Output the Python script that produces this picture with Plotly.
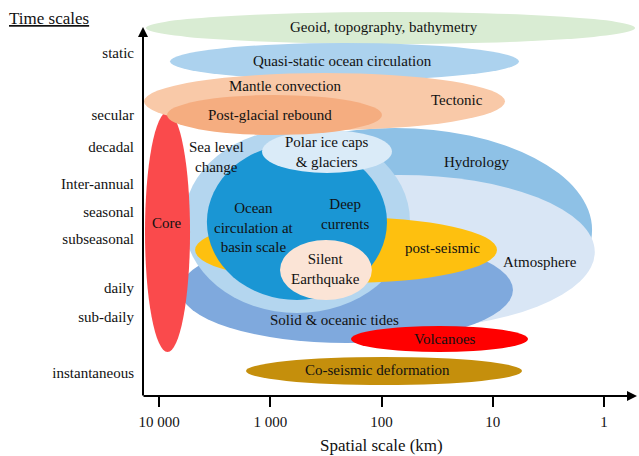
import numpy as np
import plotly.graph_objects as go

# ---------------- data ----------------
# spatial extent of each phenomenon (km) and temporal extent (time-scale level units)
names = ["Hydrology", "Atmosphere", "Solid & oceanic tides", "Sea level change", "Core",
         "post-seismic", "Ocean circulation", "Polar ice caps", "Silent Earthquake",
         "Volcanoes", "Co-seismic deformation", "Geoid", "Quasi-static ocean circulation",
         "Mantle convection / Tectonic", "Post-glacial rebound"]
km_large = [4460, 3860, 6470, 5960, 13360, 4740, 3710, 1186, 817, 188, 1652, 13100, 7960, 13640, 8470]
km_small = [1.28, 1.21, 6.58, 55.5, 5260, 9.16, 89.3, 80.5, 122, 4.82, 5.46, 0.526, 5.81, 7.76, 99.1]
t_high = [26.8, 22.1, 15.9, 26.7, 28.4, 17.9, 25.2, 26.6, 15.6, 7.0, 3.9, 38.4, 35.3, 32.3, 30.1]
t_low = [6.4, 6.7, 5.3, 8.3, 4.4, 11.3, 9.6, 22.3, 9.6, 4.4, 1.1, 35.2, 31.6, 26.6, 26.1]

time_labels = ["static", "secular", "decadal", "Inter-annual", "seasonal", "subseasonal",
               "daily", "sub-daily", "instantaneous"]
time_levels = [34.3, 28.1, 24.9, 21.2, 18.4, 15.7, 10.8, 7.9, 2.3]

space_ticks = [10000, 1000, 100, 10, 1]
space_ticktext = ["10 000", "1 000", "100", "10", "1"]

# ---------------- styles ----------------
colors = ["#8ec1e6", "#d9e6f5", "#7fa9dd", "#b4d6ef", "#fa4a4c",
          "#fec00f", "#1a96d4", "#daebf8", "#fbe4d6",
          "#ff0000", "#c58f0c", "#d9ecd3", "#acd2ee",
          "#f9c9a8", "#f5ad80"]


def px_to_km(px):
    return 10 ** (4 - (px - 159) / 111.25)


def py_to_lvl(py):
    return (396 - py) / 10


# text labels: (text, x pixel, y pixel) -> converted to axis coordinates
labels = [
    ("Geoid, topography, bathymetry", 384, 27),
    ("Quasi-static ocean circulation", 342, 61),
    ("Mantle convection", 285, 86),
    ("Tectonic", 457, 100),
    ("Post-glacial rebound", 270, 115),
    ("Sea level<br>change", 216, 157),
    ("Polar ice caps<br>& glaciers", 326, 152),
    ("Hydrology", 476, 162),
    ("Ocean<br>circulation at<br>basin scale", 254, 227),
    ("Deep<br>currents", 345, 214),
    ("Core", 167, 223),
    ("Silent<br>Earthquake", 325, 269),
    ("post-seismic", 442, 248),
    ("Atmosphere", 540, 262),
    ("Solid & oceanic tides", 334, 320),
    ("Volcanoes", 445, 339),
    ("Co-seismic deformation", 377, 370),
]

FONT = "Liberation Serif"
TXT = "#111111"

fig = go.Figure()
fig.add_trace(go.Scatter(x=[1000], y=[10], mode="markers", marker=dict(opacity=0),
                         hoverinfo="skip", showlegend=False))

for n, a, b, hi, lo, c in zip(names, km_large, km_small, t_high, t_low, colors):
    fig.add_shape(type="circle", xref="x", yref="y", x0=a, x1=b, y0=lo, y1=hi,
                  fillcolor=c, line=dict(width=0), layer="above")

annotations = []
for txt, px, py in labels:
    annotations.append(dict(text=txt, x=np.log10(px_to_km(px)), y=py_to_lvl(py), xref="x", yref="y",
                            showarrow=False, font=dict(family=FONT, size=15, color=TXT),
                            xanchor="center", yanchor="middle"))

# axis arrows
annotations.append(dict(text="", x=0, y=(396 - 27) / 391, xref="paper", yref="paper",
                        ax=0, ay=370, axref="pixel", ayref="pixel", showarrow=True,
                        arrowhead=2, arrowsize=1, arrowwidth=2, arrowcolor="black", standoff=0))
annotations.append(dict(text="", x=(637 - 143) / 496, y=0, xref="paper", yref="paper",
                        ax=-495, ay=0, axref="pixel", ayref="pixel", showarrow=True,
                        arrowhead=2, arrowsize=1, arrowwidth=2, arrowcolor="black", standoff=0))
annotations.append(dict(text="Spatial scale (km)", x=(381 - 143) / 496, y=(396 - 445) / 391,
                        xref="paper", yref="paper", showarrow=False, xanchor="center", yanchor="middle",
                        font=dict(family=FONT, size=17, color=TXT)))
annotations.append(dict(text="<u>Time scales</u>", x=(7 - 143) / 496, y=(396 - 18) / 391,
                        xref="paper", yref="paper", showarrow=False, xanchor="left", yanchor="middle",
                        font=dict(family=FONT, size=17, color=TXT)))

fig.update_layout(
    width=639, height=456,
    margin=dict(l=143, r=0, t=5, b=60, autoexpand=False),
    paper_bgcolor="white", plot_bgcolor="white",
    showlegend=False,
    annotations=annotations,
    xaxis=dict(type="log", range=[4 + 16 / 111.25, 4 - 480 / 111.25],
               tickvals=space_ticks, ticktext=space_ticktext,
               ticks="outside", ticklen=10, tickwidth=2, tickcolor="black",
               showgrid=False, zeroline=False, showline=False, automargin=False,
               tickfont=dict(family=FONT, size=15, color=TXT), ticklabelstandoff=2),
    yaxis=dict(range=[0, 39.1], tickvals=time_levels, ticktext=time_labels,
               ticks="", showgrid=False, zeroline=False, showline=False, automargin=False,
               tickfont=dict(family=FONT, size=15, color=TXT), ticklabelstandoff=8),
)

fig.write_html("out.html", config={"displayModeBar": False},
               post_script="document.body.style.margin='0';document.body.style.overflow='hidden';")
